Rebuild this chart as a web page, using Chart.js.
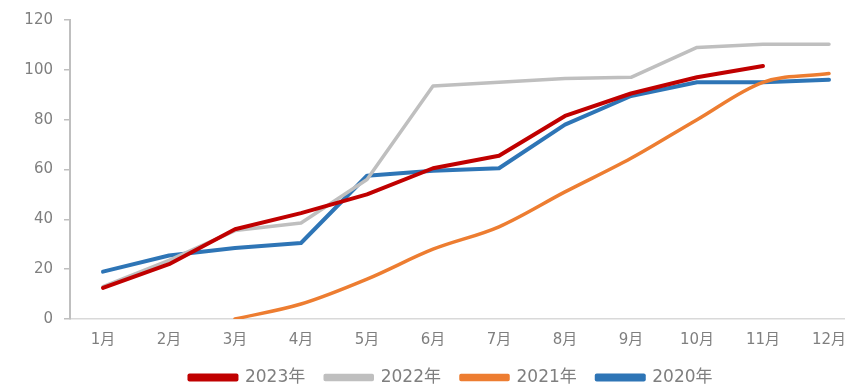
<!DOCTYPE html>
<html>
<head>
<meta charset="utf-8">
<script src="https://cdn.jsdelivr.net/npm/chart.js@4"></script>
<style>
  html, body { margin: 0; padding: 0; background: #fff; overflow: hidden; }
  #wrap { width: 902px; height: 396px; }
</style>
</head>
<body>
<div id="wrap"><canvas id="chart"></canvas></div>
<script>
const months = ['1月', '2月', '3月', '4月', '5月', '6月', '7月', '8月', '9月', '10月', '11月', '12月']
const y2023 = [12.5, 22, 36, 42.5, 50, 60.5, 65.5, 81.5, 90.5, 97, 101.5, null]
const y2022 = [13, 23.5, 35.5, 38.5, 56, 93.5, 95, 96.5, 97, 109, 110.3, 110.3]
const y2021 = [null, null, 0, 6, 16, 28, 37, 51, 64.5, 80, 95, 98.5]
const y2020 = [19, 25.5, 28.5, 30.5, 57.5, 59.5, 60.5, 78, 89.5, 95, 95, 96]
const yTicks = [0, 20, 40, 60, 80, 100, 120]

const family = '"DejaVu Sans", "Noto Sans CJK SC", sans-serif'
const tickFont = { family: family, size: 15 }
const legendFont = { family: family, size: 17 }
const textColor = '#7f7f7f'

function line(label, data, color, width, smooth){
    return {
        label: label,
        data: data,
        borderColor: color,
        backgroundColor: color,
        borderWidth: width,
        pointRadius: 0,
        cubicInterpolationMode: smooth ? 'monotone' : 'default',
        tension: 0,
        borderCapStyle: 'round',
        borderJoinStyle: 'round',
    }
}

const ctx = document.getElementById('chart').getContext('2d')
new Chart(ctx, {
    type: 'line',
    data: {
        labels: months,
        datasets: [
            line('2023年', y2023, '#c00000', 4, false),
            line('2022年', y2022, '#bfbfbf', 3.5, false),
            line('2021年', y2021, '#ed7d31', 3.5, true),
            line('2020年', y2020, '#2e75b6', 4, false),
        ],
    },
    options: {
        responsive: true,
        maintainAspectRatio: false,
        animation: false,
        layout: { padding: { top: 14, left: 0, right: 0, bottom: 0 } },
        plugins: {
            legend: {
                position: 'bottom',
                labels: {
                    boxWidth: 47,
                    boxHeight: 4,
                    padding: 20,
                    color: textColor,
                    font: legendFont,
                },
            },
            tooltip: { enabled: false },
        },
        scales: {
            x: {
                offset: true,
                grid: { display: false },
                border: { display: true, color: '#d9d9d9', width: 1.5 },
                ticks: { color: textColor, font: tickFont, padding: 4, maxRotation: 0 },
                afterFit: (s) => { s.height = 30 },
            },
            y: {
                min: 0,
                max: 120,
                afterBuildTicks: (s) => { s.ticks = yTicks.map(v => ({ value: v })) },
                grid: { drawOnChartArea: false, drawTicks: true, tickLength: 6, color: '#bfbfbf', lineWidth: 1.5 },
                border: { display: true, color: '#bfbfbf', width: 2 },
                ticks: { color: textColor, font: tickFont, padding: 11 },
                afterFit: (s) => { s.width = 70 },
            },
            yr: {
                position: 'right',
                display: true,
                grid: { display: false },
                border: { display: false },
                ticks: { display: false },
                afterFit: (s) => { s.width = 40 },
            },
        },
    },
})
</script>
</body>
</html>
